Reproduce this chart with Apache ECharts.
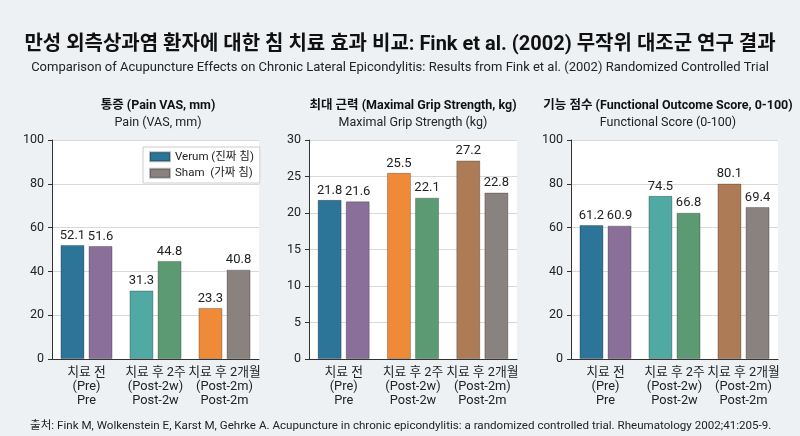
<!DOCTYPE html>
<html>
<head>
<meta charset="utf-8">
<script src="https://cdn.jsdelivr.net/npm/echarts@6/dist/echarts.min.js"></script>
<style>
  html, body { margin: 0; padding: 0; background: #eef1f4; }
  #main { width: 800px; height: 436px; }
</style>
</head>
<body>
<div id="main"></div>
<script>
// 데이터
var categories = ['치료 전\n(Pre)\nPre', '치료 후 2주\n(Post-2w)\nPost-2w', '치료 후 2개월\n(Post-2m)\nPost-2m'];

var painVerum = [52.1, 31.3, 23.3];
var painSham = [51.6, 44.8, 40.8];
var gripVerum = [21.8, 25.5, 27.2];
var gripSham = [21.6, 22.1, 22.8];
var funcVerum = [61.2, 74.5, 80.1];
var funcSham = [60.9, 66.8, 69.4];

// 색상
var BLUE = '#2d7499', PURPLE = '#8a6f9b', TEAL = '#50a9a2', GREEN = '#5c9a73';
var ORANGE = '#ee8a38', GRAY = '#8a827f', BROWN = '#ad7b55';
var painVerumColors = [BLUE, TEAL, ORANGE];
var gripVerumColors = [BLUE, ORANGE, BROWN];
var funcVerumColors = [BLUE, TEAL, BROWN];
var shamColors = [PURPLE, GREEN, GRAY];

var FONT = 'Roboto, "Noto Sans CJK KR", sans-serif';

function colored(values, colors) {
  return values.map(function (v, i) {
    return { value: v, itemStyle: { color: colors[i] } };
  });
}

function barSeries(name, values, colors, idx, baseColor) {
  return {
    name: name,
    type: 'bar',
    xAxisIndex: idx,
    yAxisIndex: idx,
    barWidth: 24,
    barGap: '17%',
    itemStyle: { color: baseColor, borderColor: 'rgba(0,0,0,0.25)', borderWidth: 1 },
    label: { show: true, position: 'top', distance: 3, fontSize: 13, color: '#222', fontFamily: FONT },
    data: colored(values, colors)
  };
}

var grids = [
  { left: 52, right: 541, top: 140, bottom: 77 },
  { left: 309, right: 283, top: 140, bottom: 77 },
  { left: 571, right: 22, top: 140, bottom: 77 }
];
var yRanges = [[100, 20], [30, 5], [100, 20]];

var panelTitles = [
  ['통증 (Pain VAS, mm)', 'Pain (VAS, mm)', 153],
  ['최대 근력 (Maximal Grip Strength, kg)', 'Maximal Grip Strength (kg)', 408],
  ['기능 점수 (Functional Outcome Score, 0-100)', 'Functional Score (0-100)', 663]
];

var titles = [{
  text: '만성 외측상과염 환자에 대한 침 치료 효과 비교: Fink et al. (2002) 무작위 대조군 연구 결과',
  subtext: 'Comparison of Acupuncture Effects on Chronic Lateral Epicondylitis: Results from Fink et al. (2002) Randomized Controlled Trial',
  left: 'center',
  top: 30,
  itemGap: 6,
  textStyle: { fontSize: 20, fontWeight: 'bold', color: '#111', fontFamily: FONT },
  subtextStyle: { fontSize: 13, color: '#222', fontFamily: FONT }
}];
panelTitles.forEach(function (p) {
  titles.push({
    text: p[0],
    subtext: p[1],
    left: p[2],
    top: 95,
    textAlign: 'center',
    itemGap: 4,
    textStyle: { fontSize: 12.5, fontWeight: 'bold', color: '#111', fontFamily: FONT },
    subtextStyle: { fontSize: 12.5, color: '#222', fontFamily: FONT }
  });
});
titles.push({
  text: '출처: Fink M, Wolkenstein E, Karst M, Gehrke A. Acupuncture in chronic epicondylitis: a randomized controlled trial. Rheumatology 2002;41:205-9.',
  left: 25,
  top: 415,
  textStyle: { fontSize: 11.6, fontWeight: 'normal', color: '#222', fontFamily: FONT }
});

var chart = echarts.init(document.getElementById('main'));
chart.setOption({
  backgroundColor: '#eef1f4',
  animation: false,
  title: titles,
  legend: {
    left: 143,
    top: 147,
    orient: 'vertical',
    backgroundColor: '#fff',
    borderColor: '#ccc',
    borderWidth: 1,
    padding: [4, 6, 4, 6],
    itemGap: 5,
    itemWidth: 20,
    itemHeight: 9,
    icon: 'rect',
    data: ['Verum (진짜 침)', 'Sham  (가짜 침)'],
    textStyle: { fontSize: 11.5, color: '#222', fontFamily: FONT }
  },
  grid: grids.map(function (g) {
    return Object.assign({ show: true, backgroundColor: '#fff', borderWidth: 0 }, g);
  }),
  xAxis: grids.map(function (g, i) {
    return {
      type: 'category',
      gridIndex: i,
      data: categories,
      axisLine: { lineStyle: { color: '#333', width: 1 } },
      axisTick: { alignWithLabel: true, length: 4, lineStyle: { color: '#333' } },
      axisLabel: { fontSize: 12.8, color: '#222', lineHeight: 14, margin: 7, fontFamily: FONT, interval: 0 }
    };
  }),
  yAxis: grids.map(function (g, i) {
    return {
      type: 'value',
      gridIndex: i,
      min: 0,
      max: yRanges[i][0],
      interval: yRanges[i][1],
      axisLine: { show: true, lineStyle: { color: '#333', width: 1 } },
      axisTick: { show: true, length: 4, lineStyle: { color: '#333' } },
      axisLabel: { fontSize: 12.5, color: '#222', margin: 8, fontFamily: FONT },
      splitLine: { lineStyle: { color: '#d9d9d9' } }
    };
  }),
  series: [
    barSeries('Verum (진짜 침)', painVerum, painVerumColors, 0, BLUE),
    barSeries('Sham  (가짜 침)', painSham, shamColors, 0, GRAY),
    barSeries('Verum (진짜 침)', gripVerum, gripVerumColors, 1, BLUE),
    barSeries('Sham  (가짜 침)', gripSham, shamColors, 1, GRAY),
    barSeries('Verum (진짜 침)', funcVerum, funcVerumColors, 2, BLUE),
    barSeries('Sham  (가짜 침)', funcSham, shamColors, 2, GRAY)
  ]
});
</script>
</body>
</html>
